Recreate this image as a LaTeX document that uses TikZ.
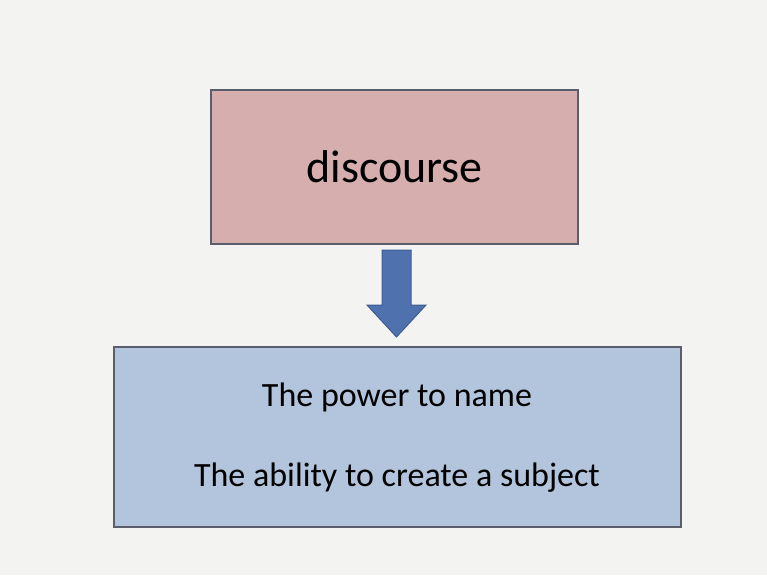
\documentclass[tikz,border=0pt]{standalone}
\usepackage{fontspec}
\setmainfont{Carlito}
\definecolor{slidebg}{HTML}{F3F3F1}
\definecolor{pinkfill}{HTML}{D5AEAD}
\definecolor{bluefill}{HTML}{B3C4DD}
\definecolor{boxline}{HTML}{5A5E6C}
\definecolor{arrowfill}{HTML}{4F72AF}
\definecolor{arrowline}{HTML}{3D5C92}
\begin{document}
\begin{tikzpicture}[x=1pt,y=-1pt,
  box/.style={draw=boxline, line width=1.6pt, inner sep=0pt, align=center},
  blockarrow/.style={fill=arrowfill, draw=arrowline, line width=1pt, line join=miter}]
  % canvas
  \fill[slidebg] (0,0) rectangle (767,575);
  \useasboundingbox (0,0) rectangle (767,575);
  % upper box
  \node[box, fill=pinkfill, minimum width=367pt, minimum height=154pt,
        font=\fontsize{46}{50}\selectfont] (disc) at (394.5,167) {discourse};
  % lower box
  \node[box, fill=bluefill, minimum width=567pt, minimum height=180pt] (res) at (397.5,437) {};
  \node[font=\fontsize{34}{38}\selectfont] (power) at (397,397) {The power to name};
  \node[font=\fontsize{34}{38}\selectfont] (ability) at (397,478) {The ability to create a subject};
  % block arrow from the upper box down to the lower box
  \draw[blockarrow] (382,250) -- (411,250) -- (411,305) -- (426,305) -- (396.5,337)
        -- (367,305) -- (382,305) -- cycle;
\end{tikzpicture}
\end{document}
